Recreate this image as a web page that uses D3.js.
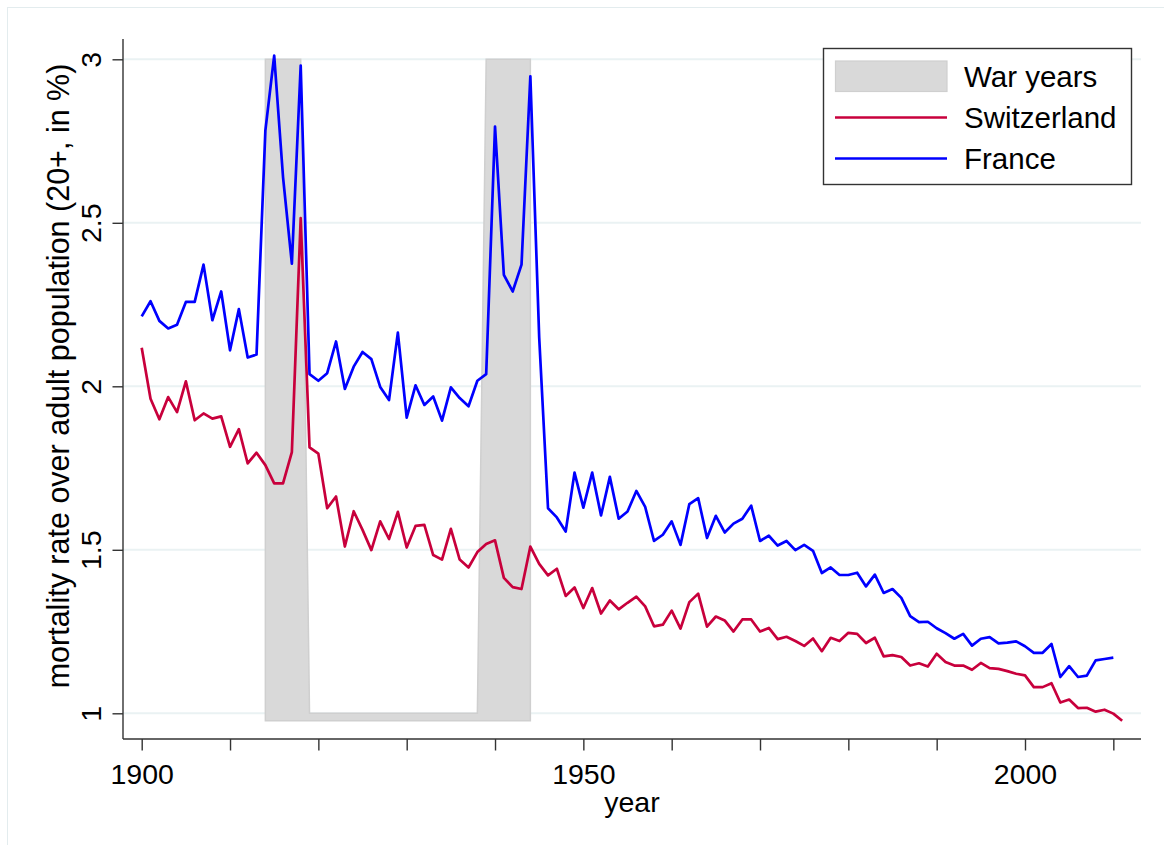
<!DOCTYPE html>
<html>
<head>
<meta charset="utf-8">
<script src="https://cdn.jsdelivr.net/npm/d3@7"></script>
<style>
  html, body { margin: 0; padding: 0; background: #fff; }
  svg { display: block; }
  text { font-family: "Liberation Sans", Arial, Helvetica, sans-serif; fill: #000; }
</style>
</head>
<body>
<svg id="chart" width="1164" height="845"></svg>
<script>
// ---------------- data ----------------
const swissYears = [1900,1901,1902,1903,1904,1905,1906,1907,1908,1909,1910,1911,1912,1913,1914,1915,1916,1917,1918,1919,
  1920,1921,1922,1923,1924,1925,1926,1927,1928,1929,1930,1931,1932,1933,1934,1935,1936,1937,1938,1939,
  1940,1941,1942,1943,1944,1945,1946,1947,1948,1949,1950,1951,1952,1953,1954,1955,1956,1957,1958,1959,
  1960,1961,1962,1963,1964,1965,1966,1967,1968,1969,1970,1971,1972,1973,1974,1975,1976,1977,1978,1979,
  1980,1981,1982,1983,1984,1985,1986,1987,1988,1989,1990,1991,1992,1993,1994,1995,1996,1997,1998,1999,
  2000,2001,2002,2003,2004,2005,2006,2007,2008,2009,2010,2011];
const swissValues = [2.118,1.962,1.899,1.967,1.921,2.015,1.896,1.917,1.901,1.908,1.815,1.869,1.764,1.797,1.759,1.703,1.703,1.799,2.514,1.813,
  1.794,1.627,1.663,1.510,1.618,1.561,1.499,1.587,1.533,1.616,1.507,1.573,1.576,1.484,1.470,1.564,1.470,1.446,1.493,1.518,
  1.529,1.414,1.386,1.380,1.510,1.457,1.422,1.442,1.359,1.385,1.322,1.383,1.305,1.345,1.318,1.338,1.357,1.327,1.266,1.271,
  1.314,1.259,1.340,1.366,1.265,1.296,1.284,1.250,1.287,1.287,1.250,1.261,1.227,1.234,1.221,1.206,1.229,1.190,1.231,1.221,
  1.246,1.243,1.215,1.231,1.174,1.178,1.172,1.146,1.153,1.143,1.182,1.157,1.146,1.146,1.133,1.154,1.138,1.136,1.129,1.121,
  1.116,1.080,1.080,1.092,1.033,1.042,1.016,1.017,1.005,1.011,0.999,0.977];

const franceYears = [1900,1901,1902,1903,1904,1905,1906,1907,1908,1909,1910,1911,1912,1913,1914,1915,1916,1917,1918,1919,
  1920,1921,1922,1923,1924,1925,1926,1927,1928,1929,1930,1931,1932,1933,1934,1935,1936,1937,1938,1939,
  1940,1941,1942,1943,1944,1945,1946,1947,1948,1949,1950,1951,1952,1953,1954,1955,1956,1957,1958,1959,
  1960,1961,1962,1963,1964,1965,1966,1967,1968,1969,1970,1971,1972,1973,1974,1975,1976,1977,1978,1979,
  1980,1981,1982,1983,1984,1985,1986,1987,1988,1989,1990,1991,1992,1993,1994,1995,1996,1997,1998,1999,
  2000,2001,2002,2003,2004,2005,2006,2007,2008,2009,2010];
const franceValues = [2.214,2.260,2.200,2.177,2.188,2.258,2.258,2.372,2.202,2.290,2.110,2.236,2.088,2.097,2.782,3.011,2.640,2.375,2.981,2.037,
  2.017,2.040,2.137,1.992,2.060,2.105,2.083,1.998,1.958,2.164,1.904,2.003,1.943,1.969,1.895,1.997,1.964,1.939,2.017,2.037,
  2.794,2.341,2.290,2.372,2.948,2.150,1.627,1.599,1.556,1.736,1.629,1.736,1.605,1.723,1.595,1.617,1.680,1.631,1.527,1.546,
  1.587,1.515,1.640,1.658,1.536,1.604,1.553,1.580,1.595,1.635,1.527,1.543,1.513,1.527,1.499,1.515,1.497,1.429,1.446,1.423,
  1.423,1.430,1.388,1.424,1.368,1.380,1.353,1.297,1.279,1.280,1.260,1.245,1.228,1.243,1.207,1.228,1.233,1.214,1.216,1.220,
  1.205,1.185,1.185,1.212,1.111,1.144,1.111,1.115,1.162,1.166,1.170];

const warYears = [1914,1915,1916,1917,1918,1919,1920,1921,1922,1923,1924,1925,1926,1927,1928,1929,1930,1931,1932,1933,
  1934,1935,1936,1937,1938,1939,1940,1941,1942,1943,1944];
const warValues = [3,3,3,3,3,1,1,1,1,1,1,1,1,1,1,1,1,1,1,1,
  1,1,1,1,1,3,3,3,3,3,3];

const xTicks = [1900,1910,1920,1930,1940,1950,1960,1970,1980,1990,2000,2010];
const xTickLabels = [1900,1950,2000];
const yTicks = [1,1.5,2,2.5,3];
const legendLabels = ["War years","Switzerland","France"];

// ---------------- drawing ----------------
const svg = d3.select("#chart");
const W = 1164, H = 845;
const colSwiss = "#c8003c", colFrance = "#0000ff", colWar = "#d9d9d9", colWarEdge = "#cfcfcf";
const colGrid = "#eaf2f3", colAxis = "#333333";

const plotL = 123, plotR = 1141, plotT = 39, plotB = 739;
const x = d3.scaleLinear().domain([1900, 2000]).range([141.7, 1025]);
const y = d3.scaleLinear().domain([1, 3]).range([713.3, 59.3]);

// outer graph-region frame
svg.append("rect").attr("x", 7.5).attr("y", 7.5).attr("width", W + 20).attr("height", H + 20)
  .attr("fill", "#fff").attr("stroke", "#e3ecee").attr("stroke-width", 1);

// gridlines
svg.append("g").selectAll("line").data(yTicks).join("line")
  .attr("x1", plotL).attr("x2", plotR)
  .attr("y1", d => y(d)).attr("y2", d => y(d))
  .attr("stroke", colGrid).attr("stroke-width", 2);

// war-years area (base at lowest data value / axis minimum)
const yBase = d3.min(swissValues.concat(franceValues));
const war = warYears.map((yr, i) => ({ yr, v: warValues[i] }));
svg.append("path").datum(war)
  .attr("d", d3.area().x(d => x(d.yr)).y0(y(yBase)).y1(d => y(d.v)))
  .attr("fill", colWar).attr("stroke", colWarEdge).attr("stroke-width", 1.5)
  .attr("stroke-linejoin", "miter");

const line = d3.line().x(d => x(d.yr)).y(d => y(d.v));
const swiss = swissYears.map((yr, i) => ({ yr, v: swissValues[i] }));
const france = franceYears.map((yr, i) => ({ yr, v: franceValues[i] }));

svg.append("path").datum(swiss).attr("d", line)
  .attr("fill", "none").attr("stroke", colSwiss).attr("stroke-width", 2.7).attr("stroke-linejoin", "round");
svg.append("path").datum(france).attr("d", line)
  .attr("fill", "none").attr("stroke", colFrance).attr("stroke-width", 2.7).attr("stroke-linejoin", "round");

// x axis
const xAxisG = svg.append("g").attr("transform", `translate(0,${plotB})`)
  .call(d3.axisBottom(x).tickValues(xTicks).tickSize(11.5).tickPadding(14)
    .tickFormat(d => xTickLabels.includes(d) ? String(d) : ""));
xAxisG.select(".domain").attr("d", `M${plotL},0H${plotR}`).attr("stroke", colAxis).attr("stroke-width", 1.4);
xAxisG.selectAll(".tick line").attr("stroke", colAxis).attr("stroke-width", 1.4);
xAxisG.selectAll(".tick text").attr("font-size", 28.5).attr("font-family", "Liberation Sans, Arial, sans-serif")
  .attr("fill", "#000").attr("dy", null).attr("y", 45);

// y axis
const yAxisG = svg.append("g").attr("transform", `translate(${plotL},0)`)
  .call(d3.axisLeft(y).tickValues(yTicks).tickSize(10.5).tickFormat(d3.format("~g")));
yAxisG.select(".domain").attr("d", `M0,${plotT}V${plotB}`).attr("stroke", colAxis).attr("stroke-width", 1.4);
yAxisG.selectAll(".tick line").attr("stroke", colAxis).attr("stroke-width", 1.4);
yAxisG.selectAll(".tick text")
  .attr("font-size", 28.5).attr("font-family", "Liberation Sans, Arial, sans-serif").attr("fill", "#000")
  .attr("x", null).attr("dy", null).attr("text-anchor", "middle")
  .attr("transform", "translate(-22,0) rotate(-90)");

// axis titles
svg.append("text").attr("x", (plotL + plotR) / 2).attr("y", 812).attr("text-anchor", "middle")
  .attr("font-size", 28.5).text("year");
svg.append("text").attr("transform", "translate(69,376) rotate(-90)").attr("text-anchor", "middle")
  .attr("font-size", 30.5).text("mortality rate over adult population (20+, in %)");

// legend
const lg = svg.append("g");
lg.append("rect").attr("x", 823.5).attr("y", 48.5).attr("width", 308).attr("height", 136)
  .attr("fill", "#fff").attr("stroke", "#333").attr("stroke-width", 1.4);
const rowY = [76, 117.5, 158.5];
lg.append("rect").attr("x", 835.5).attr("y", 61).attr("width", 111.5).attr("height", 30.5)
  .attr("fill", colWar).attr("stroke", colWarEdge).attr("stroke-width", 1.2);
lg.append("line").attr("x1", 835).attr("x2", 947).attr("y1", rowY[1]).attr("y2", rowY[1])
  .attr("stroke", colSwiss).attr("stroke-width", 2.6);
lg.append("line").attr("x1", 835).attr("x2", 947).attr("y1", rowY[2]).attr("y2", rowY[2])
  .attr("stroke", colFrance).attr("stroke-width", 2.6);
lg.selectAll("text.lab").data(legendLabels).join("text").attr("class", "lab")
  .attr("x", 964).attr("y", (d, i) => rowY[i] + 10.5).attr("font-size", 29.5).text(d => d);
</script>
</body>
</html>
